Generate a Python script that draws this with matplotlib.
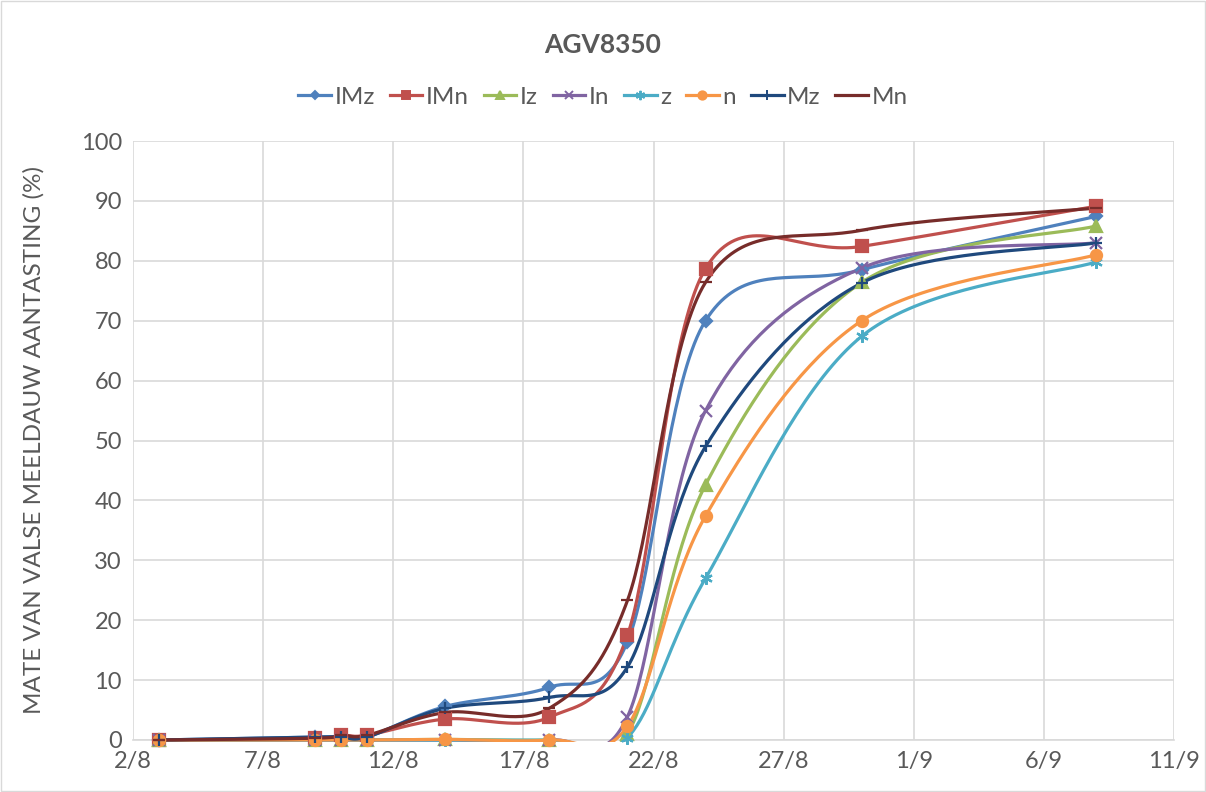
import datetime as dt
import numpy as np
import matplotlib
matplotlib.use("Agg")
import matplotlib.pyplot as plt
import matplotlib.dates as mdates
from matplotlib.patches import Rectangle
from matplotlib.ticker import FixedLocator, FuncFormatter

plt.rcParams['font.family'] = ['Lato', 'DejaVu Sans']

# Observation dates (2023 season) and disease scores per treatment
dates = ["3/8", "9/8", "10/8", "11/8", "14/8", "18/8", "21/8", "24/8", "30/8", "8/9"]
IMz = [0, 0.5, 0.5, 0.5, 5.6, 8.8, 16.4, 70.0, 78.5, 87.4]
IMn = [0, 0.3, 0.8, 0.8, 3.5, 3.8, 17.5, 78.7, 82.4, 89.1]
Iz = [0, 0, 0, 0, 0.1, 0, 1.0, 42.6, 76.4, 85.8]
In = [0, 0, 0, 0, 0, 0, 3.9, 55.0, 78.8, 83.0]
z = [0, 0, 0, 0, 0, 0, 0.4, 27.0, 67.4, 79.8]
n = [0, 0, 0, 0, 0.1, 0, 2.3, 37.4, 70.0, 81.0]
Mz = [0, 0.5, 0.5, 0.5, 5.3, 7.1, 12.2, 49.0, 76.3, 83.0]
Mn = [0, 0.3, 0.8, 0.8, 4.6, 5.3, 23.3, 76.4, 85.1, 88.8]

tick_dates = ["2/8", "7/8", "12/8", "17/8", "22/8", "27/8", "1/9", "6/9", "11/9"]


def to_num(s):
    d, m = s.split("/")
    return mdates.date2num(dt.date(2023, int(m), int(d)))


def smooth(xs, ys, steps=40):
    """Cardinal-spline smoothing through every point (Bezier segments)."""
    P = np.column_stack([xs, ys]).astype(float)
    n_pts = len(P)
    out = [P[0]]
    t = np.linspace(0, 1, steps)[1:, None]
    for i in range(n_pts - 1):
        p0 = P[i - 1] if i > 0 else P[i]
        p1, p2 = P[i], P[i + 1]
        p3 = P[i + 2] if i + 2 < n_pts else P[i + 1]
        c1 = p1 + (p2 - p0) / 6.0
        c2 = p2 - (p3 - p1) / 6.0
        seg = ((1 - t) ** 3) * p1 + 3 * ((1 - t) ** 2) * t * c1 \
            + 3 * (1 - t) * t ** 2 * c2 + t ** 3 * p2
        out.extend(seg)
    out = np.array(out)
    return out[:, 0], out[:, 1]


series = [
    ("IMz", IMz, "#4F81BD", "D", 6),
    ("IMn", IMn, "#C0504D", "s", 8),
    ("Iz", Iz, "#9BBB59", "^", 8),
    ("In", In, "#8064A2", "x", 8),
    ("z", z, "#4BACC6", (6, 2, 0), 9),
    ("n", n, "#F79646", "o", 8),
    ("Mz", Mz, "#1F497D", "+", 9),
    ("Mn", Mn, "#772C2A", "_", 9),
]

fig = plt.figure(figsize=(12.06, 7.92), dpi=100)
ax = fig.add_axes([133 / 1206, 1 - 740 / 792, (1174 - 133) / 1206, (740 - 141) / 792])

# plot-area clip, slightly padded so lines lying on the baseline stay whole
clip = Rectangle((0, -0.004), 1, 1.008, transform=ax.transAxes,
                 facecolor="none", edgecolor="none")
ax.add_patch(clip)

x = np.array([to_num(s) for s in dates])
for name, vals, col, mk, ms in series:
    sx, sy = smooth(x, vals)
    ln, = ax.plot(sx, sy, color=col, lw=2.3, solid_capstyle="round", zorder=3)
    ln.set_clip_path(clip)
    ax.plot(x, vals, linestyle="none", marker=mk, color=col, markersize=ms,
            markeredgewidth=1.6, zorder=4, clip_on=False)
    ax.plot([], [], color=col, lw=2.3, marker=mk, markersize=ms * 0.75,
            markeredgewidth=1.4, label=name)

ticks = [to_num(s) for s in tick_dates]
ax.set_xlim(ticks[0], ticks[-1])
ax.set_ylim(0, 100)
ax.xaxis.set_major_locator(FixedLocator(ticks))
ax.xaxis.set_major_formatter(FuncFormatter(
    lambda v, p: f"{mdates.num2date(v).day}/{mdates.num2date(v).month}"))
ax.set_yticks(np.arange(0, 101, 10))

ax.grid(True, color="#D9D9D9", lw=1.2, zorder=0)
for side in ["top", "right", "left"]:
    ax.spines[side].set_visible(False)
ax.spines["bottom"].set_color("#D9D9D9")
ax.spines["bottom"].set_linewidth(1.2)
ax.tick_params(axis="both", length=0, labelsize=17, labelcolor="#595959", pad=8)

ax.set_ylabel("MATE VAN VALSE MEELDAUW AANTASTING (%)", fontsize=17.5,
              color="#595959", labelpad=10)
ax.yaxis.set_label_coords(-88 / 1041, 0.5)

fig.text(0.5, 1 - 45 / 792, "AGV8350", ha="center", va="center",
         fontsize=19, fontweight="bold", color="#595959")

leg = fig.legend(loc="center", bbox_to_anchor=(0.5, 1 - 97 / 792), ncol=8,
                 frameon=False, fontsize=17.5, handlelength=1.35, handletextpad=0.15,
                 columnspacing=0.6)
for t in leg.get_texts():
    t.set_color("#595959")

fig.patches.append(Rectangle((0.001, 0.001), 0.998, 0.998, transform=fig.transFigure,
                             fill=False, edgecolor="#D9D9D9", lw=1))

fig.savefig("out.png", dpi=100)
